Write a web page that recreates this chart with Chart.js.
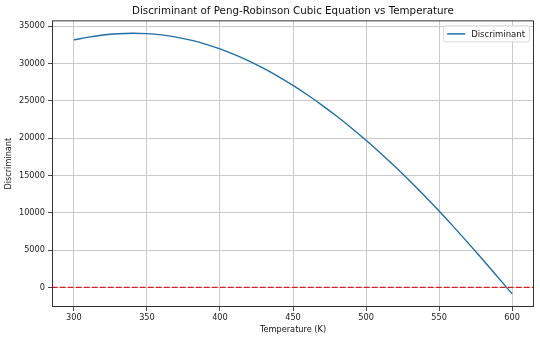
<!DOCTYPE html>
<html lang="en">
<head>
    <meta charset="UTF-8">
    <title>Discriminant vs Temperature</title>
    <script src="https://cdn.jsdelivr.net/npm/chart.js"></script>
    <style>
        html, body {
            margin: 0;
            padding: 0;
            background: #fff;
        }

        #chartBox {
            width: 540px;
            height: 340px;
        }
    </style>
</head>
<body>
<div id="chartBox">
    <canvas id="discCanvas"></canvas>
</div>

<script>
    // temperature (K) and the discriminant
    const temperatures = [300, 310, 320, 330, 340, 350, 360, 370, 380, 390,
        400, 410, 420, 430, 440, 450, 460, 470, 480, 490,
        500, 510, 520, 530, 540, 550, 560, 570, 580, 590, 600];
    const discriminant = [33180, 33550, 33830, 34000, 34070, 34020, 33850, 33560, 33150, 32620,
        31970, 31210, 30340, 29360, 28270, 27080, 25790, 24410, 22940, 21380,
        19730, 17990, 16170, 14270, 12290, 10240, 8120, 5940, 3710, 1440, -860];

    const xTicks = [300, 350, 400, 450, 500, 550, 600];
    const yTicks = [0, 5000, 10000, 15000, 20000, 25000, 30000, 35000];
    const xMin = 285, xMax = 615;
    const yMin = -2620, yMax = 35800;

    const FONT = "'DejaVu Sans', sans-serif";

    // frame round the plot area, like matplotlib spines
    const framePlugin = {
        id: 'frame',
        afterDraw(chart) {
            const a = chart.chartArea;
            const ctx = chart.ctx;
            ctx.save();
            ctx.strokeStyle = '#333';
            ctx.lineWidth = 1;
            ctx.strokeRect(a.left + 0.5, a.top + 0.5, a.right - a.left - 1, a.bottom - a.top - 1);
            ctx.restore();
        }
    };

    // legend inside the axes, upper right
    const innerLegend = {
        id: 'innerLegend',
        afterDraw(chart) {
            const a = chart.chartArea;
            const ctx = chart.ctx;
            const ds = chart.data.datasets[0];
            ctx.save();
            ctx.font = '8.5px ' + FONT;
            const tw = ctx.measureText(ds.label).width;
            const w = tw + 32, h = 16;
            const x = a.right - 5 - w, y = a.top + 5;
            ctx.fillStyle = 'rgba(255,255,255,0.85)';
            ctx.strokeStyle = '#d6d6d6';
            ctx.lineWidth = 1;
            ctx.beginPath();
            ctx.roundRect(x + 0.5, y + 0.5, w, h, 2);
            ctx.fill();
            ctx.stroke();
            ctx.strokeStyle = ds.borderColor;
            ctx.lineWidth = 1.5;
            ctx.beginPath();
            ctx.moveTo(x + 4, y + h / 2 + 0.5);
            ctx.lineTo(x + 22, y + h / 2 + 0.5);
            ctx.stroke();
            ctx.fillStyle = '#222';
            ctx.textBaseline = 'middle';
            ctx.fillText(ds.label, x + 28, y + h / 2 + 1);
            ctx.restore();
        }
    };

    function initializeChart() {
        const ctx = document.getElementById('discCanvas').getContext('2d');
        new Chart(ctx, {
            type: 'line',
            data: {
                datasets: [{
                    label: 'Discriminant',
                    data: temperatures.map((t, i) => ({x: t, y: discriminant[i]})),
                    borderColor: '#1f6fa8',
                    borderWidth: 1.4,
                    pointRadius: 0,
                    cubicInterpolationMode: 'monotone',
                    fill: false
                }, {
                    label: 'zero',
                    data: [{x: xMin, y: 0}, {x: xMax, y: 0}],
                    borderColor: '#e41a1c',
                    borderWidth: 1.3,
                    borderDash: [5.5, 2.5],
                    pointRadius: 0,
                    fill: false
                }]
            },
            options: {
                responsive: true,
                maintainAspectRatio: false,
                animation: false,
                layout: {
                    padding: {left: 0, right: 6, top: 0, bottom: 0}
                },
                plugins: {
                    legend: {display: false},
                    tooltip: {enabled: false},
                    title: {
                        display: true,
                        fullSize: false,
                        text: 'Discriminant of Peng-Robinson Cubic Equation vs Temperature',
                        color: '#111',
                        font: {family: FONT, size: 10.3, weight: 'normal'},
                        padding: {top: 5, bottom: 3}
                    }
                },
                scales: {
                    x: {
                        type: 'linear',
                        min: xMin,
                        max: xMax,
                        afterBuildTicks: (s) => { s.ticks = xTicks.map(v => ({value: v})); },
                        afterFit: (s) => { s.height = 33; },
                        border: {display: false},
                        grid: {color: '#c4c4c4', lineWidth: 0.9, tickColor: '#333', tickLength: 4},
                        ticks: {
                            color: '#222',
                            font: {family: FONT, size: 8.2},
                            padding: 2,
                            maxRotation: 0
                        },
                        title: {
                            display: true,
                            text: 'Temperature (K)',
                            color: '#111',
                            font: {family: FONT, size: 8.2},
                            padding: {top: 0, bottom: 5}
                        }
                    },
                    y: {
                        min: yMin,
                        max: yMax,
                        afterBuildTicks: (s) => { s.ticks = yTicks.map(v => ({value: v})); },
                        afterFit: (s) => { s.width = 52; },
                        border: {display: false},
                        grid: {color: '#c4c4c4', lineWidth: 0.9, tickColor: '#333', tickLength: 4},
                        ticks: {
                            color: '#222',
                            font: {family: FONT, size: 8.2},
                            padding: 3,
                            callback: (v) => String(v)
                        },
                        title: {
                            display: true,
                            text: 'Discriminant',
                            color: '#111',
                            font: {family: FONT, size: 8.2},
                            padding: {top: 4, bottom: 0}
                        }
                    }
                }
            },
            plugins: [framePlugin, innerLegend]
        });
    }

    window.onload = () => {
        initializeChart();
    };
</script>
</body>
</html>
